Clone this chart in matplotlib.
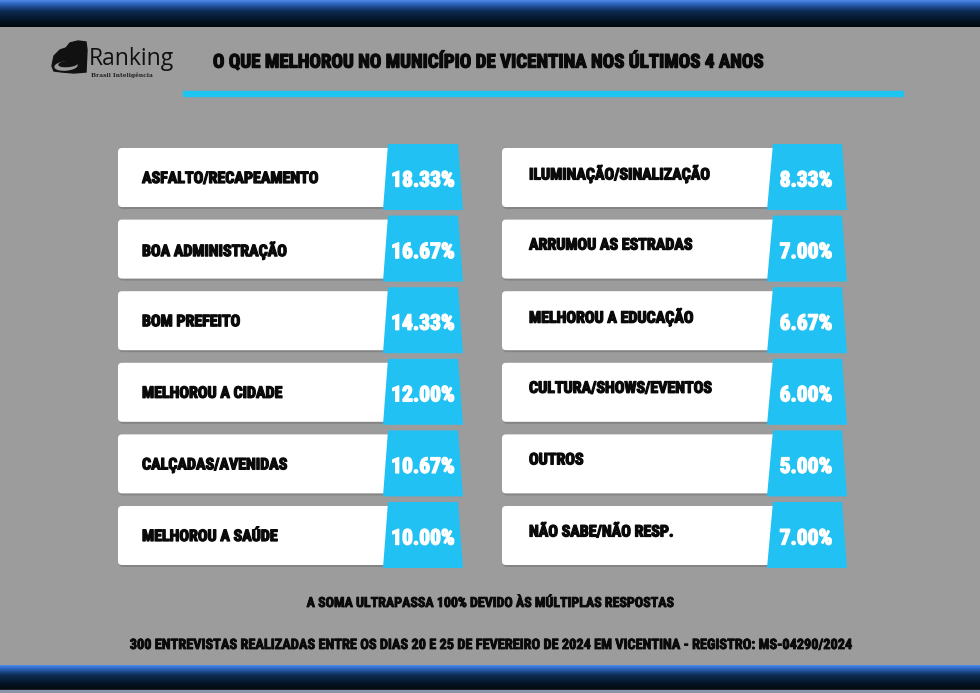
import matplotlib
matplotlib.use("Agg")
import matplotlib.pyplot as plt
import numpy as np
from matplotlib.patches import Polygon, FancyBboxPatch, Ellipse
from matplotlib.colors import LinearSegmentedColormap
from matplotlib import font_manager
import matplotlib.patheffects as pe

# ---------------- data ----------------
title = "O QUE MELHOROU NO MUNICÍPIO DE VICENTINA NOS ÚLTIMOS 4 ANOS"
labels_left = ["ASFALTO/RECAPEAMENTO", "BOA ADMINISTRAÇÃO", "BOM PREFEITO",
               "MELHOROU A CIDADE", "CALÇADAS/AVENIDAS", "MELHOROU A SAÚDE"]
values_left = [18.33, 16.67, 14.33, 12.00, 10.67, 10.00]
labels_right = ["ILUMINAÇÃO/SINALIZAÇÃO", "ARRUMOU AS ESTRADAS", "MELHOROU A EDUCAÇÃO",
                "CULTURA/SHOWS/EVENTOS", "OUTROS", "NÃO SABE/NÃO RESP."]
values_right = [8.33, 7.00, 6.67, 6.00, 5.00, 7.00]
note1 = "A SOMA ULTRAPASSA 100% DEVIDO ÀS MÚLTIPLAS RESPOSTAS"
note2 = "300 ENTREVISTAS REALIZADAS ENTRE OS DIAS 20 E 25 DE FEVEREIRO DE 2024 EM VICENTINA - REGISTRO: MS-04290/2024"
logo_text = "Ranking"
logo_sub = "Brasil Inteligência"

# ---------------- fonts ----------------
installed = {f.name for f in font_manager.fontManager.ttflist}
cond_candidates = ["Roboto Condensed", "Liberation Sans Narrow", "Open Sans Condensed",
                   "DejaVu Sans Condensed"]
cond = next((c for c in cond_candidates if c in installed), "DejaVu Sans")
FAM = [cond, "DejaVu Sans"]
narrow = cond != "DejaVu Sans"
WEIGHT = "black"
DARK = "#0a0a0a"
heavy_dark = [pe.withStroke(linewidth=0.9, foreground=DARK)]
heavy_white = [pe.withStroke(linewidth=1.0, foreground="#ffffff")]

W, H = 980, 693
fig = plt.figure(figsize=(W / 100, H / 100), dpi=100)
ax = fig.add_axes([0, 0, 1, 1])

BG = "#9c9c9c"
ax.add_patch(plt.Rectangle((0, 0), W, H, color=BG, zorder=0))

# top and bottom gradient bars
cmap_bar = LinearSegmentedColormap.from_list(
    "bar", [(0, "#4f8ae6"), (0.12, "#2f68c4"), (0.4, "#0d2c55"), (0.75, "#041424"), (1, "#02080e")])
grad = np.linspace(0, 1, 64).reshape(-1, 1)
ax.imshow(grad, extent=(0, W, 27, 0), aspect="auto", cmap=cmap_bar, zorder=1)
ax.imshow(grad, extent=(0, W, 690, 665), aspect="auto", cmap=cmap_bar, zorder=1)
ax.add_patch(plt.Rectangle((0, 690), W, 3, color="#8a96a8", zorder=1))
ax.set_xlim(0, W)
ax.set_ylim(H, 0)
ax.axis("off")

# logo
icon = Polygon([(52, 66), (54, 56), (60, 50), (66, 48), (70, 43), (78, 41), (86, 42),
                (87, 50), (86, 72), (74, 73), (62, 72), (54, 71)],
               closed=True, color="#111111", zorder=3)
ax.add_patch(icon)
ax.add_patch(Ellipse((66, 66), 22, 8, angle=-5, color=BG, zorder=4))
ax.add_patch(Ellipse((68, 64), 18, 5, angle=-5, color="#111111", zorder=5))
ax.text(89, 65, logo_text, fontsize=16.5, family=["Open Sans", "DejaVu Sans"],
        color="#111111", ha="left", va="baseline", zorder=5)
ax.text(122, 75, logo_sub, fontsize=4.2, family=["DejaVu Serif"], fontweight="bold",
        color="#222222", ha="center", va="center", zorder=5)

# title and line
ax.text(489, 62, title, fontsize=13.7 if narrow else 11, family=FAM, fontweight=WEIGHT,
        color=DARK, ha="center", va="center", zorder=5, path_effects=heavy_dark)
ax.add_patch(plt.Rectangle((183, 91), 720, 5, color="#1cc6f0", zorder=3))

# cards
row_top0 = 148
row_step = 71.6
card_h = 59
cols = [
    dict(labels=labels_left, values=values_left, x0=118, x1=392,
         blue=(388, 458, 463, 383), tx=142, vx=423, ty_off=1),
    dict(labels=labels_right, values=values_right, x0=502, x1=776,
         blue=(773, 842, 847, 767), tx=529, vx=806, ty_off=-4),
]
BLUE = "#22c1f3"
lab_fs = 11.5 if narrow else 10
val_fs = 15.5 if narrow else 13
for col in cols:
    for i, (lab, val) in enumerate(zip(col["labels"], col["values"])):
        top = row_top0 + i * row_step
        # shadow
        ax.add_patch(FancyBboxPatch((col["x0"] + 1, top + 2), col["x1"] - col["x0"], card_h,
                                    boxstyle="round,pad=0,rounding_size=4",
                                    color="#5a5a5a", alpha=0.35, lw=0, zorder=2))
        ax.add_patch(FancyBboxPatch((col["x0"], top), col["x1"] - col["x0"], card_h,
                                    boxstyle="round,pad=0,rounding_size=4",
                                    color="#ffffff", lw=0, zorder=3))
        tl, tr, br, bl = col["blue"]
        ax.add_patch(Polygon([(tl, top - 4), (tr, top - 4), (br, top + card_h + 3), (bl, top + card_h + 3)],
                             closed=True, color=BLUE, lw=0, zorder=4))
        cy = top + card_h / 2
        ax.text(col["tx"], cy + col["ty_off"], lab, fontsize=lab_fs, family=FAM, fontweight=WEIGHT,
                color=DARK, ha="left", va="center", zorder=5, path_effects=heavy_dark)
        ax.text(col["vx"], cy + 3, f"{val:.2f}%", fontsize=val_fs, family=FAM, fontweight=WEIGHT,
                color="#ffffff", ha="center", va="center", zorder=5, path_effects=heavy_white)

# footer notes
ax.text(490, 603, note1, fontsize=10 if narrow else 7.5, family=FAM, fontweight=WEIGHT,
        color=DARK, ha="center", va="center", zorder=5,
        path_effects=[pe.withStroke(linewidth=0.6, foreground=DARK)])
ax.text(490, 645, note2, fontsize=10.3 if narrow else 7.5, family=FAM, fontweight=WEIGHT,
        color=DARK, ha="center", va="center", zorder=5,
        path_effects=[pe.withStroke(linewidth=0.6, foreground=DARK)])

fig.savefig("out.png", dpi=100)
